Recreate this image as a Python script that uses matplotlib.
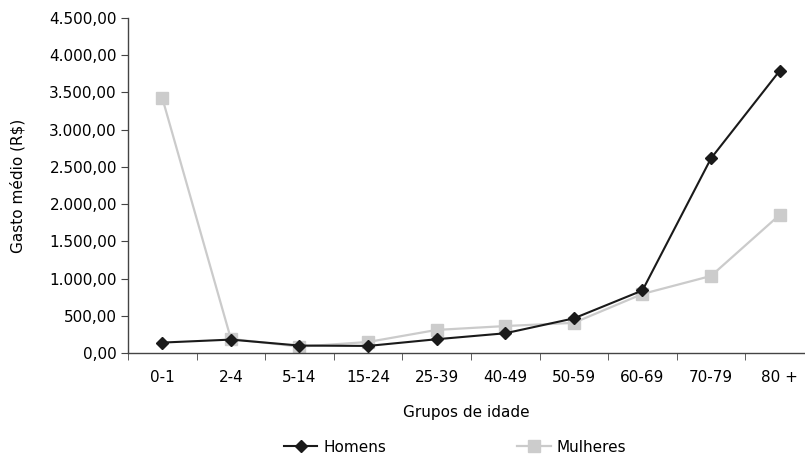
import matplotlib
matplotlib.use("Agg")
import matplotlib.pyplot as plt
from matplotlib import font_manager

grupos = ["0-1", "2-4", "5-14", "15-24", "25-39", "40-49", "50-59", "60-69", "70-79", "80 +"]
homens = [140, 180, 100, 95, 185, 265, 465, 840, 2615, 3790]
mulheres = [3425, 190, 85, 148, 310, 362, 405, 793, 1035, 1855]
y_ticks = [0, 500, 1000, 1500, 2000, 2500, 3000, 3500, 4000, 4500]

names = {f.name for f in font_manager.fontManager.ttflist}
family = "Liberation Sans Narrow" if "Liberation Sans Narrow" in names else "DejaVu Sans"
plt.rcParams["font.family"] = [family, "DejaVu Sans"]
plt.rcParams["font.size"] = 11


def br_fmt(v):
    s = f"{v:,.2f}"
    return s.replace(",", "X").replace(".", ",").replace("X", ".")


fig = plt.figure(figsize=(8.05, 4.55), dpi=100)
ax = fig.add_axes([128 / 805, 1 - 353 / 455, (805 - 128) / 805, (353 - 18) / 455])

x = list(range(len(grupos)))
ax.plot(x, mulheres, color="#cbcbcb", lw=1.6, marker="s", ms=9,
        mfc="#cccccc", mec="#cccccc", label="Mulheres", zorder=2)
ax.plot(x, homens, color="#1a1a1a", lw=1.5, marker="D", ms=6.5,
        mfc="#1a1a1a", mec="#1a1a1a", label="Homens", zorder=3)

ax.set_ylim(0, 4500)
ax.set_yticks(y_ticks)
ax.set_yticklabels([br_fmt(v) for v in y_ticks])
ax.set_xlim(-0.5, 9.37)
ax.set_xticks(x)
ax.set_xticklabels(grupos)
ax.set_xticks([i - 0.5 for i in range(len(grupos))], minor=True)
ax.tick_params(axis="x", which="major", length=0, pad=12)
ax.tick_params(axis="x", which="minor", length=5, color="#444444")
ax.tick_params(axis="y", length=5, color="#444444", pad=3)

for side in ("top", "right"):
    ax.spines[side].set_visible(False)
for side in ("left", "bottom"):
    ax.spines[side].set_color("#444444")
    ax.spines[side].set_linewidth(1.0)

ax.set_ylabel("Gasto médio (R$)", labelpad=17)
ax.set_xlabel("Grupos de idade", labelpad=15)

handles, labels = ax.get_legend_handles_labels()
leg = fig.legend(handles[::-1], labels[::-1], loc="center", ncol=2,
                 bbox_to_anchor=(455 / 805, 1 - 447 / 455), frameon=False,
                 columnspacing=8.55, handlelength=2.2, handletextpad=0.4,
                 borderaxespad=0)

fig.savefig("out.png", dpi=100)
